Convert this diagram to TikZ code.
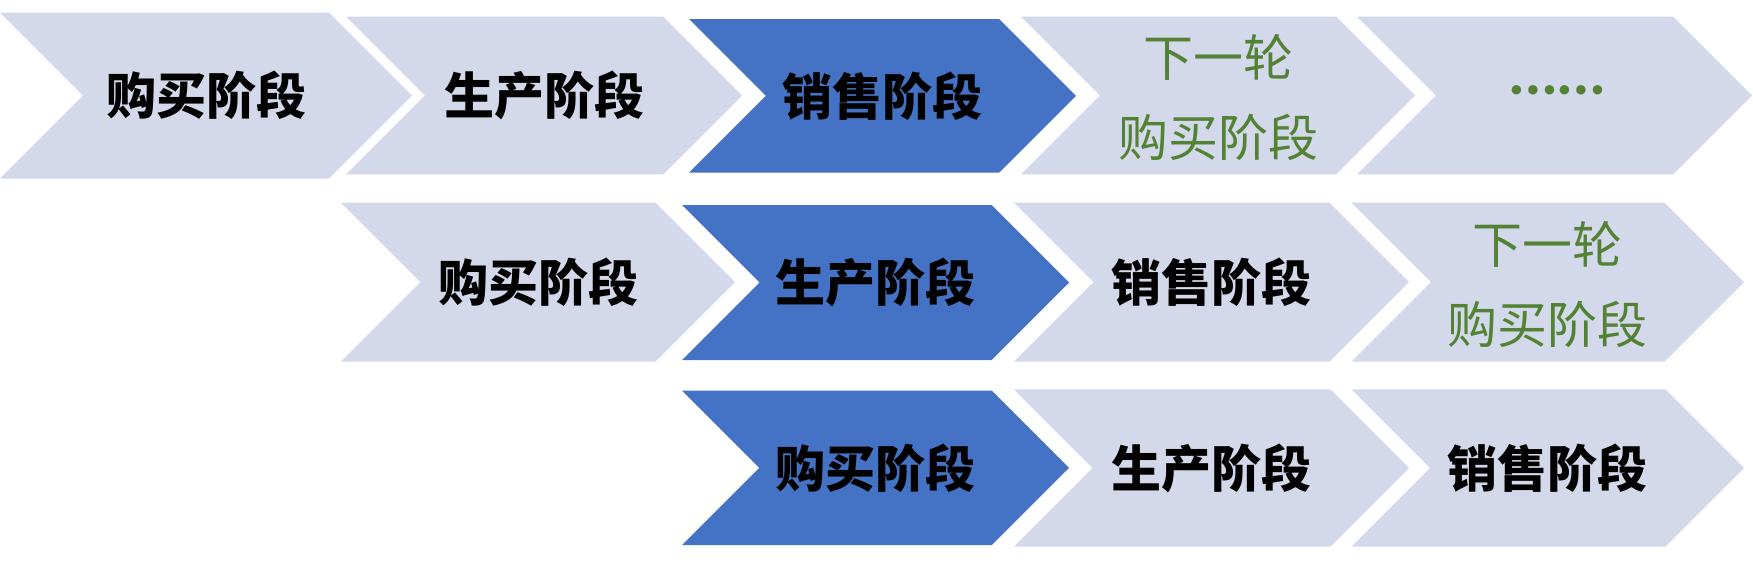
\documentclass[tikz,border=0pt]{standalone}
\usepackage{fontspec}
\newfontfamily\cjk{Noto Sans CJK SC}
\newfontfamily\dotfont{Lato}
\definecolor{lav}{HTML}{D3D9EB}
\definecolor{blu}{HTML}{4472C4}
\definecolor{grn}{HTML}{548235}
\newcommand\chevron[6]{% #1 name, #2 left, #3 top, #4 tip x, #5 bottom, #6 colour
  \fill[#6] (#2,#3) -- ({#4-(#5-#3)/2},#3) -- (#4,{(#3+#5)/2}) -- ({#4-(#5-#3)/2},#5)
    -- (#2,#5) -- ({#2+(#5-#3)/2},{(#3+#5)/2}) -- cycle;
  \coordinate (#1) at ({(#2+#4)/2},{(#3+#5)/2});}
\begin{document}
\begin{tikzpicture}[x=1pt,y=-1pt,
  bold/.style={font=\cjk\bfseries\fontsize{50}{60}\selectfont, text=black, inner sep=0pt},
  green/.style={font=\cjk\fontsize{50}{80}\selectfont, text=grn, align=center, inner sep=0pt}]
\useasboundingbox[fill=white] (0,0) rectangle (1753,562);
% row 1
\chevron{r1a}{0}{12.7}{412}{178.7}{lav}
\chevron{r1b}{346}{16.7}{742}{174.3}{lav}
\chevron{r1c}{689}{19}{1076}{172.7}{blu}
\chevron{r1d}{1021}{16.7}{1415}{174.3}{lav}
\chevron{r1e}{1357}{16.7}{1752}{174.3}{lav}
% row 2
\chevron{r2b}{341}{202.7}{735}{361.7}{lav}
\chevron{r2c}{682}{205}{1069}{360}{blu}
\chevron{r2d}{1014}{202.7}{1409}{361.7}{lav}
\chevron{r2e}{1351.5}{202.7}{1744}{361.7}{lav}
% row 3
\chevron{r3c}{682}{390.7}{1069}{545}{blu}
\chevron{r3d}{1014}{389.3}{1409}{546.7}{lav}
\chevron{r3e}{1351.5}{389.3}{1744}{546.7}{lav}
% labels
\node[bold] (t1a) at (r1a) {购买阶段};
\node[bold] (t1b) at (r1b) {生产阶段};
\node[bold] (t1c) at (r1c) {销售阶段};
\node[green] (t1d) at ([yshift=-2]r1d) {下一轮\\购买阶段};
\node[font=\dotfont\bfseries\fontsize{62}{70}\selectfont, text=grn, inner sep=0pt, anchor=base]
  (t1e) at ([xshift=2.5,yshift=1.5]r1e) {……};
\node[bold] (t2b) at (r2b) {购买阶段};
\node[bold] (t2c) at (r2c) {生产阶段};
\node[bold] (t2d) at (r2d) {销售阶段};
\node[green] (t2e) at ([yshift=-2]r2e) {下一轮\\购买阶段};
\node[bold] (t3c) at (r3c) {购买阶段};
\node[bold] (t3d) at (r3d) {生产阶段};
\node[bold] (t3e) at (r3e) {销售阶段};
\end{tikzpicture}
\end{document}
